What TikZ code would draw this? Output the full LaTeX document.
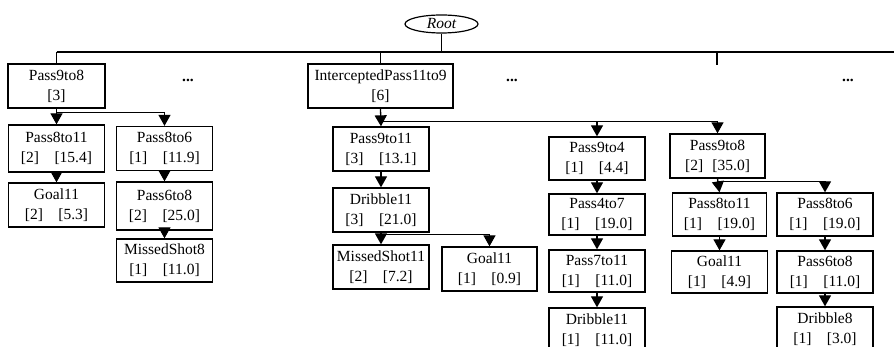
\documentclass[tikz,border=0pt]{standalone}
\usepackage{fontspec}
\setmainfont{Liberation Serif}
\usetikzlibrary{arrows.meta,shapes.geometric}
\tikzset{
  box/.style={draw, line width=1.3pt, minimum width=96pt, minimum height=44pt,
    inner sep=0pt, align=center},
  rootnode/.style={draw, ellipse, line width=1.2pt, minimum width=73pt,
    minimum height=18pt, inner sep=0pt,
    font=\fontsize{15.5}{20}\selectfont\itshape},
  arr/.style={line width=1.3pt, -{Triangle[width=12pt,length=11pt]}},
  dots/.style={font=\fontsize{15.5}{20}\selectfont\bfseries}
}
\begin{document}
\begin{tikzpicture}[x=1pt, y=-1pt, line width=1.3pt,
    font=\fontsize{15.5}{20}\selectfont]
  \useasboundingbox (0,0) rectangle (894,347);
  \node[rootnode] (Root) at (441.5,24) {Root};
  \coordinate (busL) at (56.5,52);
  \coordinate (busR) at (894,52);
  \coordinate (tick) at (717,65);
  % first level
  \node[box, minimum width=97pt] (Pass9to8) at (56.5,86) {Pass9to8\\{}[3]};
  \node[dots] (dotsA) at (188,80) {...};
  \node[box, minimum width=145pt] (Intercepted) at (380.5,86) {InterceptedPass11to9\\{}[6]};
  \node[dots] (dotsB) at (512,80) {...};
  \node[dots] (dotsC) at (848,80) {...};
  % left branch
  \node[box, minimum height=47pt] (Pass8to11a) at (56.5,148.5) {Pass8to11\\{}[2]\quad[15.4]};
  \node[box] (Pass8to6a) at (164.5,148.5) {Pass8to6\\{}[1]\quad[11.9]};
  \node[box] (Goal11a) at (56.5,205) {Goal11\\{}[2]\quad[5.3]};
  \node[box, minimum height=48pt] (Pass6to8a) at (164.5,206) {Pass6to8\\{}[2]\quad[25.0]};
  \node[box, minimum height=43pt] (MissedShot8) at (164.5,260.5) {MissedShot8\\{}[1]\quad[11.0]};
  % middle branch
  \node[box] (Pass9to11) at (381,149) {Pass9to11\\{}[3]\quad[13.1]};
  \node[box] (Dribble11a) at (381,210) {Dribble11\\{}[3]\quad[21.0]};
  \node[box] (MissedShot11) at (381,267) {MissedShot11\\{}[2]\quad[7.2]};
  \node[box, minimum width=95pt] (Goal11b) at (489.5,269) {Goal11\\{}[1]\quad[0.9]};
  \node[box, minimum height=43pt] (Pass9to4) at (597,158.5) {Pass9to4\\{}[1]\quad[4.4]};
  \node[box, minimum height=41pt] (Pass4to7) at (597,214.5) {Pass4to7\\{}[1]\quad[19.0]};
  \node[box, minimum height=42pt] (Pass7to11) at (597,271) {Pass7to11\\{}[1]\quad[11.0]};
  \node[box] (Dribble11b) at (597,330) {Dribble11\\{}[1]\quad[11.0]};
  % right branch
  \node[box, minimum width=95pt] (Pass9to8b) at (717.5,156) {Pass9to8\\{}[2]\hspace{0.6em}[35.0]};
  \node[box, minimum width=94pt, minimum height=43pt] (Pass8to11b) at (719.5,214.5) {Pass8to11\\{}[1]\quad[19.0]};
  \node[box, minimum height=43pt] (Pass8to6b) at (825,214.5) {Pass8to6\\{}[1]\quad[19.0]};
  \node[box, minimum height=42pt] (Goal11c) at (719.5,272) {Goal11\\{}[1]\quad[4.9]};
  \node[box, minimum height=42pt] (Pass6to8b) at (825,272) {Pass6to8\\{}[1]\quad[11.0]};
  \node[box] (Dribble8) at (825,329) {Dribble8\\{}[1]\quad[3.0]};
  % top bus
  \draw (busL) -- (busR);
  \draw (Root.south) -- (Root.south |- busL);
  \draw (busL) -- (Pass9to8.north);
  \draw (Intercepted.north) -- (Intercepted.north |- busL);
  \draw (tick) -- (tick |- busL);
  % connectors
  \path[arr] (Pass9to8.south) edge (Pass8to11a.north)
             (Pass8to11a.south) edge (Goal11a.north)
             (Pass8to6a.south) edge (Pass6to8a.north)
             (Pass6to8a.south) edge (MissedShot8.north)
             (Intercepted.south) edge (Pass9to11.north)
             (Pass9to11.south) edge (Dribble11a.north)
             (Dribble11a.south) edge (MissedShot11.north)
             (Pass9to4.south) edge (Pass4to7.north)
             (Pass4to7.south) edge (Pass7to11.north)
             (Pass7to11.south) edge (Dribble11b.north)
             (Pass9to8b.south) edge (Pass8to11b.north)
             (Pass8to11b.south) edge (Goal11c.north)
             (Pass8to6b.south) edge (Pass6to8b.north)
             (Pass6to8b.south) edge (Dribble8.north)
             ;
  \draw[arr] (Pass9to8.south) -- ++(0,4) -| (Pass8to6a.north);
  \draw[arr] (Intercepted.south) -- ++(0,13) -| (Pass9to4.north);
  \draw[arr] (Intercepted.south) -- ++(0,13) -| (Pass9to8b.north);
  \draw[arr] (Dribble11a.south) -- ++(0,2) -| (Goal11b.north);
  \draw[arr] (Pass9to8b.south) -- ++(0,3) -| (Pass8to6b.north);
\end{tikzpicture}
\end{document}
